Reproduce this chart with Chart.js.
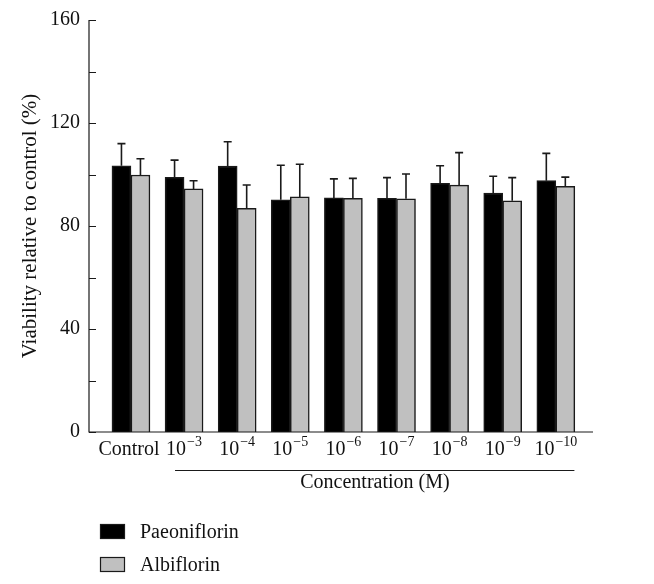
<!DOCTYPE html>
<html>
<head>
<meta charset="utf-8">
<script src="https://cdn.jsdelivr.net/npm/chart.js@4.4.1/dist/chart.umd.min.js"></script>
<style>
  html, body { margin: 0; padding: 0; background: #fff; }
  #wrap { width: 654px; height: 584px; position: relative; }
</style>
</head>
<body>
<div id="wrap"><canvas id="myChart" width="654" height="584"></canvas></div>
<script>
// categories (exponent shown as superscript, 'Control' as plain text)
const categories = ['Control', '-3', '-4', '-5', '-6', '-7', '-8', '-9', '-10'];
const paeoniflorin = [103.4, 98.9, 103.3, 90.2, 90.9, 90.7, 96.6, 92.8, 97.6];
const paeoniflorinErrTop = [112.0, 105.6, 112.7, 103.6, 98.3, 98.8, 103.4, 99.3, 108.2];
const albiflorin = [99.8, 94.4, 86.9, 91.3, 90.7, 90.6, 95.9, 89.8, 95.4];
const albiflorinErrTop = [106.1, 97.6, 95.9, 104.0, 98.5, 100.2, 108.5, 98.8, 99.0];
const yTicks = [0, 40, 80, 120, 160];
const yMinorTicks = [20, 60, 100, 140];

const FONT = '"Liberation Serif", "DejaVu Serif", serif';

const data = {
  datasets: [{
    label: 'Paeoniflorin',
    data: paeoniflorin.map((v, i) => ({x: i, y: v})),
    errTop: paeoniflorinErrTop,
    backgroundColor: '#000000',
    borderColor: '#1a1a1a',
    borderWidth: 1.5,
  }, {
    label: 'Albiflorin',
    data: albiflorin.map((v, i) => ({x: i, y: v})),
    errTop: albiflorinErrTop,
    backgroundColor: '#c0c0c0',
    borderColor: '#1a1a1a',
    borderWidth: 1.5,
  }]
};

// error bars (upper only)
const errorBars = {
  id: 'errorBars',
  afterDatasetsDraw(chart) {
    const {ctx, scales: {y}} = chart;
    ctx.save();
    ctx.strokeStyle = '#1a1a1a';
    ctx.lineWidth = 1.6;
    chart.data.datasets.forEach((ds, di) => {
      chart.getDatasetMeta(di).data.forEach((bar, i) => {
        const yt = y.getPixelForValue(ds.errTop[i]);
        ctx.beginPath();
        ctx.moveTo(bar.x, bar.y);
        ctx.lineTo(bar.x, yt);
        ctx.moveTo(bar.x - 4, yt);
        ctx.lineTo(bar.x + 4, yt);
        ctx.stroke();
      });
    });
    ctx.restore();
  }
};

// axes, labels, legend
const axesDecor = {
  id: 'axesDecor',
  afterDraw(chart) {
    const {ctx, chartArea: {left, right, top, bottom}, scales: {x, y}} = chart;
    ctx.save();
    ctx.strokeStyle = '#1a1a1a';
    ctx.lineWidth = 1.2;
    ctx.beginPath();
    ctx.moveTo(left, top);
    ctx.lineTo(left, bottom);
    ctx.lineTo(right, bottom);
    ctx.stroke();

    // inward ticks
    ctx.beginPath();
    yTicks.concat(yMinorTicks).forEach(v => {
      const py = Math.round(y.getPixelForValue(v)) + 0.5;
      ctx.moveTo(left, py);
      ctx.lineTo(left + 7, py);
    });
    ctx.stroke();

    ctx.fillStyle = '#111';
    ctx.font = '20px ' + FONT;
    ctx.textAlign = 'right';
    ctx.textBaseline = 'middle';
    yTicks.forEach(v => ctx.fillText(String(v), left - 9, y.getPixelForValue(v)));

    // y title
    ctx.save();
    ctx.translate(36, (top + bottom) / 2);
    ctx.rotate(-Math.PI / 2);
    ctx.textAlign = 'center';
    ctx.textBaseline = 'alphabetic';
    ctx.font = '21px ' + FONT;
    ctx.fillText('Viability relative to control (%)', 0, 0);
    ctx.restore();

    // x labels
    ctx.textBaseline = 'alphabetic';
    categories.forEach((c, i) => {
      const cx = x.getPixelForValue(i);
      const base = bottom + 23;
      if (c === 'Control') {
        ctx.textAlign = 'center';
        ctx.font = '20px ' + FONT;
        ctx.fillText(c, cx - 2, base);
      } else {
        const sup = c.replace('-', '\u2212');
        ctx.font = '20px ' + FONT;
        const w1 = ctx.measureText('10').width;
        ctx.font = '14px ' + FONT;
        const w2 = ctx.measureText(sup).width;
        const x0 = cx - (w1 + w2 + 1) / 2;
        ctx.textAlign = 'left';
        ctx.font = '20px ' + FONT;
        ctx.fillText('10', x0, base);
        ctx.font = '14px ' + FONT;
        ctx.fillText(sup, x0 + w1 + 1, base - 9);
      }
    });

    // concentration bracket line + label
    ctx.lineWidth = 1;
    ctx.beginPath();
    ctx.moveTo(x.getPixelForValue(0.83), bottom + 38.5);
    ctx.lineTo(x.getPixelForValue(8.35), bottom + 38.5);
    ctx.stroke();
    ctx.font = '20px ' + FONT;
    ctx.textAlign = 'center';
    ctx.fillText('Concentration (M)', x.getPixelForValue(4.5) + 5, bottom + 56);

    // legend
    chart.data.datasets.forEach((ds, di) => {
      const ly = 524 + di * 33;
      ctx.fillStyle = ds.backgroundColor;
      ctx.fillRect(100, ly, 25, 15);
      ctx.strokeStyle = '#1a1a1a';
      ctx.lineWidth = 1.2;
      ctx.strokeRect(100.5, ly + 0.5, 24, 14);
      ctx.fillStyle = '#111';
      ctx.textAlign = 'left';
      ctx.font = '20px ' + FONT;
      ctx.fillText(ds.label, 140, ly + 14);
    });
    ctx.restore();
  }
};

const config = {
  type: 'bar',
  data,
  options: {
    responsive: false,
    animation: false,
    layout: {padding: {left: 89, right: 61, top: 20, bottom: 152}},
    datasets: {
      bar: {barThickness: 19}
    },
    scales: {
      x: {type: 'linear', min: -0.79, max: 8.70, display: false, offset: false},
      y: {min: 0, max: 160, display: false}
    },
    plugins: {legend: {display: false}, tooltip: {enabled: false}}
  },
  plugins: [errorBars, axesDecor]
};

const myChart = new Chart(document.getElementById('myChart'), config);
</script>
</body>
</html>
